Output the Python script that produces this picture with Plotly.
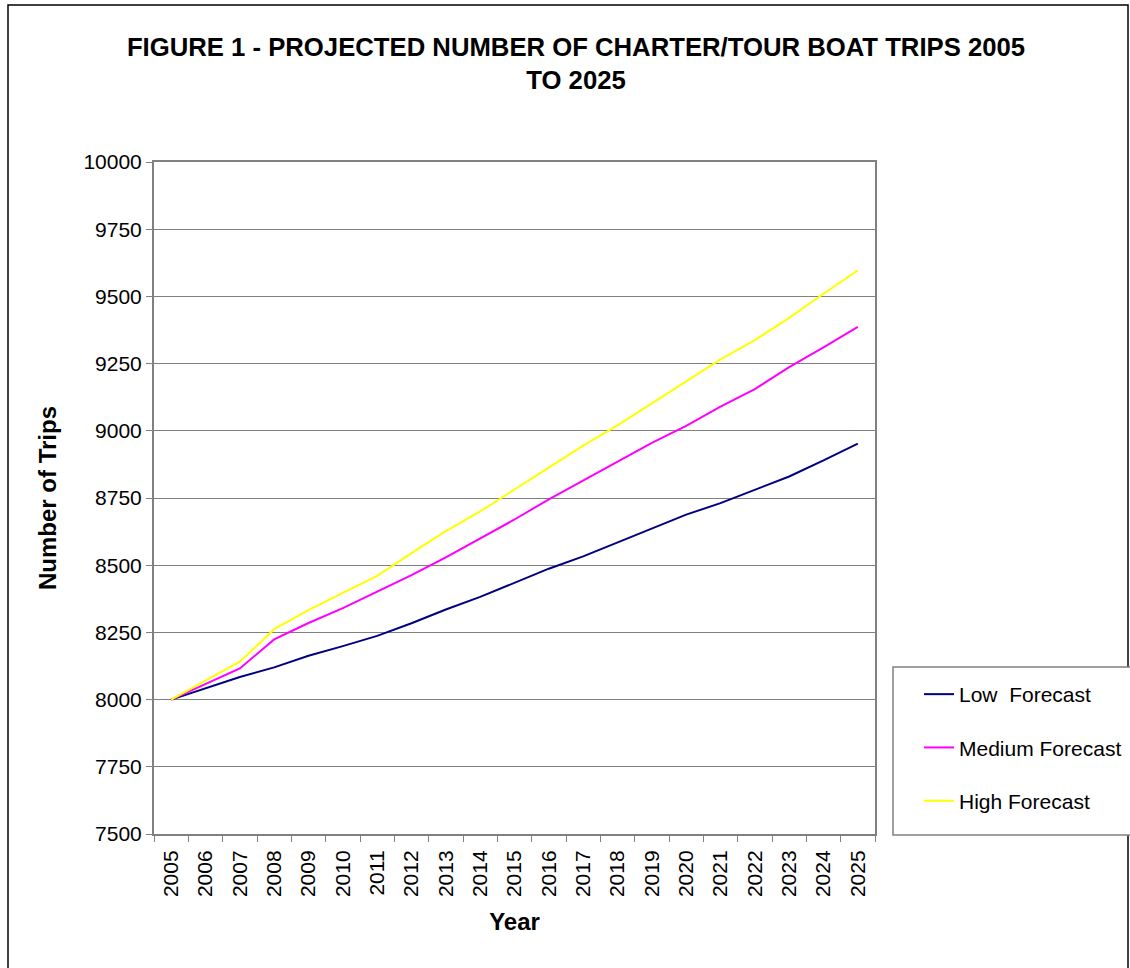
import plotly.graph_objects as go

years = [str(y) for y in range(2005, 2026)]
low = [8000, 8042, 8084, 8120, 8163, 8199, 8237, 8284, 8335, 8382, 8435,
       8487, 8533, 8585, 8635, 8688, 8731, 8780, 8830, 8890, 8952]
medium = [8000, 8058, 8116, 8224, 8285, 8340, 8400, 8463, 8529, 8600, 8670,
          8745, 8815, 8884, 8955, 9018, 9090, 9155, 9237, 9310, 9387]
high = [8000, 8070, 8141, 8262, 8333, 8397, 8460, 8545, 8627, 8700, 8783,
        8863, 8945, 9020, 9102, 9184, 9266, 9337, 9420, 9510, 9597]
y_ticks = list(range(7500, 10001, 250))

FONT = "Arial, Liberation Sans, sans-serif"

fig = go.Figure()
for name, vals, col, grp in [("Low  Forecast", low, "#000080", "a"),
                             ("Medium Forecast", medium, "#FF00FF", "b"),
                             ("High Forecast", high, "#FFFF00", "c")]:
    fig.add_trace(go.Scatter(x=years, y=vals, mode="lines", name=name,
                             legendgroup=grp,
                             line=dict(color=col, width=2)))

fig.update_layout(
    width=1130, height=968,
    paper_bgcolor="white", plot_bgcolor="white",
    margin=dict(l=154, r=255, t=162, b=134, autoexpand=False),
    font=dict(family=FONT, size=21, color="black"),
    title=dict(text="<b>FIGURE 1 - PROJECTED NUMBER OF CHARTER/TOUR BOAT TRIPS 2005<br>TO 2025</b>",
               x=576/1130, xanchor="center", y=1-56/968, yanchor="middle",
               font=dict(family=FONT, size=25.7, color="black")),
    showlegend=True,
    legend=dict(x=(919-154)/721, xanchor="left", y=(834-674)/672, yanchor="top",
                borderwidth=0, bgcolor="rgba(0,0,0,0)",
                font=dict(family=FONT, size=21, color="black"),
                tracegroupgap=23, traceorder="grouped"),
)

fig.update_xaxes(type="category", categoryorder="array", categoryarray=years,
                 range=[-0.5, 20.5], tickangle=-90, showgrid=False,
                 showline=True, linecolor="#808080", linewidth=2, mirror=True,
                 ticks="outside", ticklen=6, tickcolor="#808080", tickson="boundaries",
                 ticklabelstandoff=6,
                 tickfont=dict(family=FONT, size=21, color="black"),
                 title=dict(text="<b>Year</b>", font=dict(family=FONT, size=24, color="black"),
                            standoff=17))
fig.update_yaxes(range=[7500, 10000], tickvals=y_ticks, ticktext=[str(v) for v in y_ticks],
                 showgrid=True, gridcolor="#808080", gridwidth=1,
                 showline=True, linecolor="#808080", linewidth=2, mirror=True,
                 ticks="outside", ticklen=6, tickcolor="#808080",
                 tickfont=dict(family=FONT, size=21, color="black"),
                 title=dict(text="<b>Number of Trips</b>", font=dict(family=FONT, size=24, color="black"),
                            standoff=20))

# outer frame
fig.add_shape(type="rect", xref="paper", yref="paper",
              x0=(8-154)/721, x1=(1128-154)/721, y0=(834-990)/672, y1=(834-5)/672,
              line=dict(color="black", width=1.5), fillcolor="rgba(0,0,0,0)", layer="below")
# legend box
fig.add_shape(type="rect", xref="paper", yref="paper",
              x0=(893-154)/721, x1=(1140-154)/721, y0=(834-835)/672, y1=(834-667)/672,
              line=dict(color="#808080", width=1.5), fillcolor="white", layer="below")

fig.write_html("out.html")
